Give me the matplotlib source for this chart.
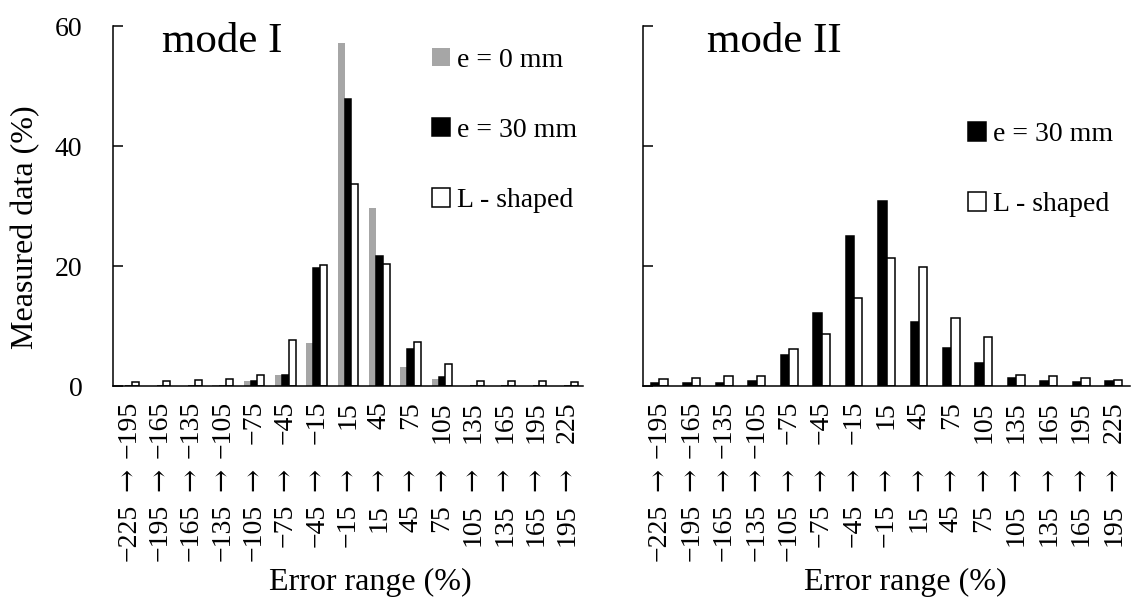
import numpy as np
import matplotlib.pyplot as plt

plt.rcParams['font.family'] = ['Liberation Serif', 'DejaVu Serif']

range_low = ['\u2212225', '\u2212195', '\u2212165', '\u2212135', '\u2212105', '\u221275', '\u221245',
             '\u221215', '15', '45', '75', '105', '135', '165', '195']
range_high = ['\u2212195', '\u2212165', '\u2212135', '\u2212105', '\u221275', '\u221245', '\u221215',
              '15', '45', '75', '105', '135', '165', '195', '225']

# mode I
m1_e0 = [0, 0, 0, 0.2, 0.9, 1.8, 7.2, 57.2, 29.6, 3.1, 1.2, 0, 0, 0, 0]
m1_e30 = [0, 0, 0, 0, 0.8, 1.8, 19.6, 47.8, 21.7, 6.2, 1.5, 0, 0, 0, 0]
m1_L = [0.6, 0.8, 1.0, 1.1, 1.9, 7.7, 20.2, 33.6, 20.4, 7.3, 3.6, 0.9, 0.8, 0.9, 0.6]

# mode II
m2_e30 = [0.5, 0.45, 0.5, 0.8, 5.1, 12.2, 25.0, 30.8, 10.7, 6.3, 3.9, 1.3, 0.8, 0.6, 0.8]
m2_L = [1.1, 1.3, 1.6, 1.7, 6.2, 8.7, 14.6, 21.3, 19.9, 11.3, 8.1, 1.9, 1.6, 1.3, 1.0]

x = np.arange(len(range_low))
gray = '#a6a6a6'

fig = plt.figure(figsize=(11.34, 5.97), dpi=100)
ax1 = fig.add_axes([113/1134, 211/597, 470/1134, 360/597])
ax2 = fig.add_axes([643/1134, 211/597, 487/1134, 360/597])

w = 0.22
b0 = ax1.bar(x - w, m1_e0, w, color=gray, linewidth=0)
b1 = ax1.bar(x, m1_e30, w, color='black', edgecolor='black', linewidth=1.1)
b2 = ax1.bar(x + w, m1_L, w, color='white', edgecolor='black', linewidth=1.1)

w2 = 0.26
c1 = ax2.bar(x - w2/2, m2_e30, w2, color='black', edgecolor='black', linewidth=1.1)
c2 = ax2.bar(x + w2/2, m2_L, w2, color='white', edgecolor='black', linewidth=1.1)

for ax in (ax1, ax2):
    ax.set_xlim(-0.5, len(x) - 0.5)
    ax.set_ylim(0, 60)
    ax.set_yticks([0, 20, 40, 60])
    ax.spines['top'].set_visible(False)
    ax.spines['right'].set_visible(False)
    ax.spines['left'].set_linewidth(1.1)
    ax.spines['bottom'].set_linewidth(1.1)
    ax.tick_params(axis='y', direction='in', length=7, width=1.1, pad=22, labelsize=20)
    ax.set_xticks([])
    tr = ax.get_xaxis_transform()
    for i in x:
        ax.text(i, -0.042, range_high[i], rotation=90, ha='center', va='top', fontsize=20, transform=tr)
        ax.text(i, -0.258, '\u2192', rotation=90, ha='center', va='center', fontsize=20,
                family='DejaVu Serif', transform=tr)
        ax.text(i, -0.328, range_low[i], rotation=90, ha='center', va='top', fontsize=20, transform=tr)

ax2.set_yticklabels([])
ax1.set_ylabel('Measured data (%)', fontsize=23)
ax1.yaxis.set_label_coords(-0.155, 0.44)

ax1.text(0.547, -0.547, 'Error range (%)', ha='center', va='center', fontsize=23, transform=ax1.transAxes)
ax2.text(0.539, -0.547, 'Error range (%)', ha='center', va='center', fontsize=23, transform=ax2.transAxes)

ax1.text(0.104, 1.01, 'mode I', ha='left', va='top', fontsize=31, transform=ax1.transAxes)
ax2.text(0.132, 1.01, 'mode II', ha='left', va='top', fontsize=31, transform=ax2.transAxes)

ax1.legend([b0, b1, b2], ['e = 0 mm', 'e = 30 mm', 'L - shaped'], loc='upper left',
           bbox_to_anchor=(0.679, 0.94), frameon=False, fontsize=20, handlelength=0.65,
           handleheight=0.65, handletextpad=0.25, labelspacing=1.63, borderpad=0, borderaxespad=0)
ax2.legend([c1, c2], ['e = 30 mm', 'L - shaped'], loc='upper left',
           bbox_to_anchor=(0.667, 0.733), frameon=False, fontsize=20, handlelength=0.65,
           handleheight=0.65, handletextpad=0.25, labelspacing=1.63, borderpad=0, borderaxespad=0)

fig.savefig('out.png', dpi=100)
